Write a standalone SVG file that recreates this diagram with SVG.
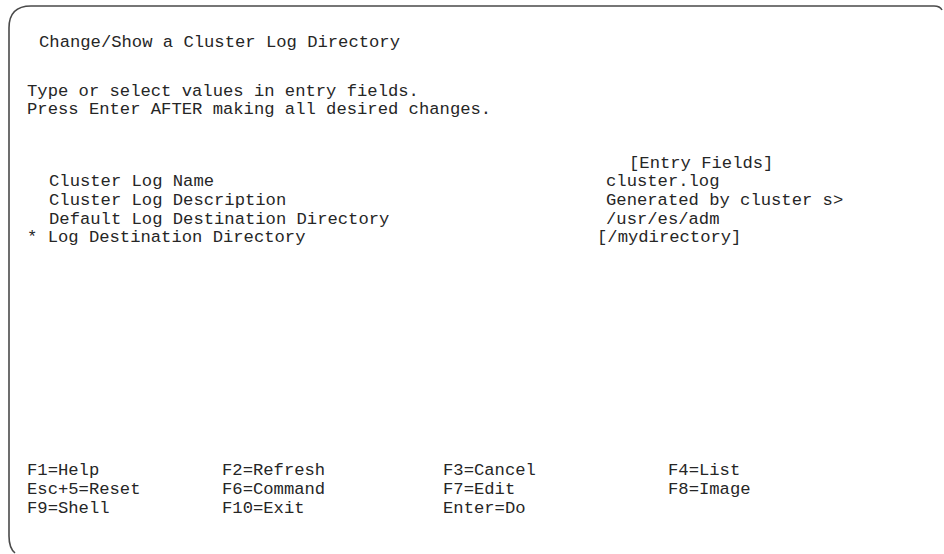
<svg xmlns="http://www.w3.org/2000/svg" width="944" height="554" viewBox="0 0 944 554">
  <style>
    .t { font-family: "Liberation Mono", "DejaVu Sans Mono", monospace; font-size: 17.2px; fill: #262626; white-space: pre; }
    .frame { fill: none; stroke: #4a4a4a; stroke-width: 1.6; }
  </style>
  <rect x="0" y="0" width="944" height="554" fill="#ffffff"/>

  <!-- screen frame: rounded top-left and bottom-left, open at right and bottom -->
  <path class="frame" d="M 942,10 Q 940,6 934,6 L 31,6 Q 9,6 9,28 L 9,536 Q 9,548 15,553"/>

  <g id="title">
    <text class="t" x="39" y="47">Change/Show a Cluster Log Directory</text>
  </g>

  <g id="instructions">
    <text class="t" x="27" y="96">Type or select values in entry fields.</text>
    <text class="t" x="27" y="114">Press Enter AFTER making all desired changes.</text>
  </g>

  <g id="fields">
    <text class="t" x="629" y="168">[Entry Fields]</text>
    <text class="t" x="49" y="186">Cluster Log Name</text>
    <text class="t" x="606" y="186">cluster.log</text>
    <text class="t" x="49" y="205">Cluster Log Description</text>
    <text class="t" x="606" y="205">Generated by cluster s&gt;</text>
    <text class="t" x="49" y="224">Default Log Destination Directory</text>
    <text class="t" x="606" y="224">/usr/es/adm</text>
    <text class="t" x="27" y="242">* Log Destination Directory</text>
    <text class="t" x="597" y="242">[/mydirectory]</text>
  </g>

  <g id="function-keys">
    <text class="t" x="27" y="475">F1=Help</text>
    <text class="t" x="222" y="475">F2=Refresh</text>
    <text class="t" x="443" y="475">F3=Cancel</text>
    <text class="t" x="668" y="475">F4=List</text>
    <text class="t" x="27" y="494">Esc+5=Reset</text>
    <text class="t" x="222" y="494">F6=Command</text>
    <text class="t" x="443" y="494">F7=Edit</text>
    <text class="t" x="668" y="494">F8=Image</text>
    <text class="t" x="27" y="513">F9=Shell</text>
    <text class="t" x="222" y="513">F10=Exit</text>
    <text class="t" x="443" y="513">Enter=Do</text>
  </g>
</svg>
